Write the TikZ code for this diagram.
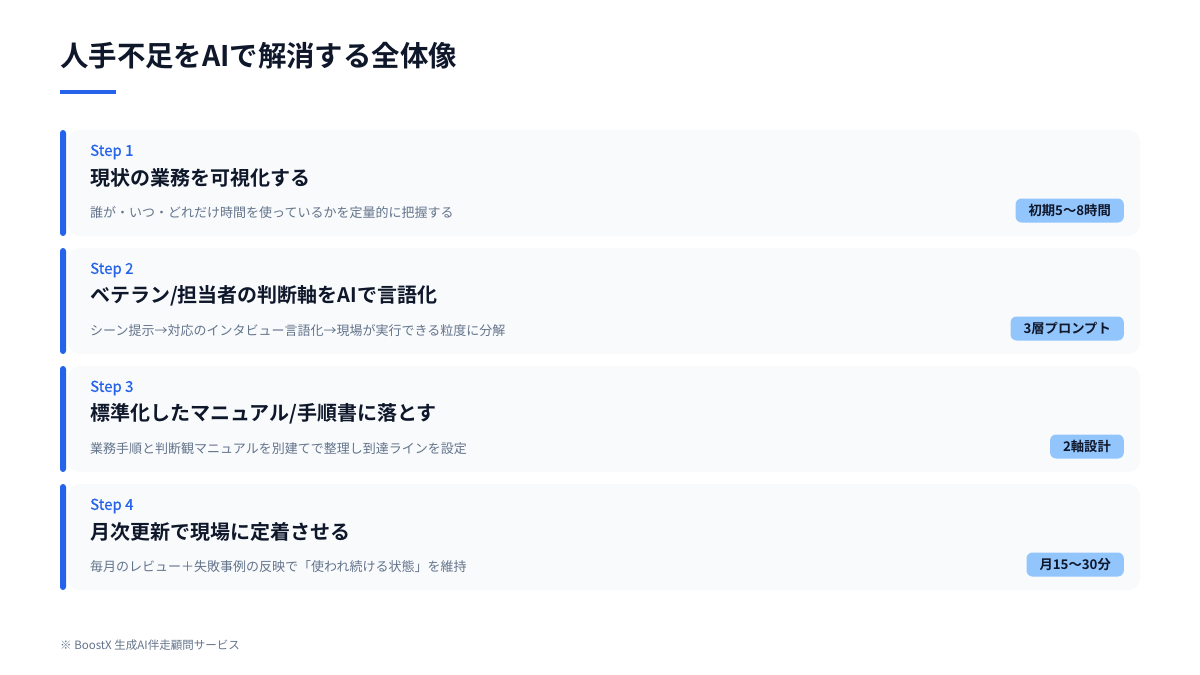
\documentclass[tikz,border=0pt]{standalone}
\usepackage{fontspec}
\setmainfont{Noto Sans CJK JP}[BoldFont={Noto Sans CJK JP Bold}]
\newfontfamily\medfont{Noto Sans CJK JP}[FakeBold=0.5]
\definecolor{accent}{HTML}{2563EB}
\definecolor{cardbg}{HTML}{F8FAFC}
\definecolor{ink}{HTML}{0F172A}
\definecolor{muted}{HTML}{64748B}
\definecolor{badgebg}{HTML}{93C5FD}
\tikzset{
  titletext/.style={anchor=west,inner sep=0pt,text=ink,font=\bfseries\fontsize{28.4}{34}\selectfont},
  steplabel/.style={anchor=west,inner sep=0pt,text=accent,font=\medfont\fontsize{15}{18}\selectfont},
  headtext/.style={anchor=west,inner sep=0pt,text=ink,font=\bfseries\fontsize{20}{24}\selectfont},
  desctext/.style={anchor=west,inner sep=0pt,text=muted,font=\fontsize{13}{16}\selectfont},
  badge/.style={anchor=east,fill=badgebg,rounded corners=6pt,inner xsep=13pt,inner ysep=0pt,minimum height=24pt,text=ink,font=\bfseries\fontsize{13.3}{16}\selectfont},
  cardbox/.style={fill=cardbg,rounded corners=12pt},
  sidebar/.style={fill=accent,rounded corners=3pt},
  foot/.style={anchor=west,inner sep=0pt,text=muted,font=\fontsize{11.5}{14}\selectfont}
}
\begin{document}
\begin{tikzpicture}[x=1pt,y=-1pt]
\useasboundingbox[fill=white] (0,0) rectangle (1200,675);
\node[titletext] (title) at (60,55.5) {人手不足をAIで解消する全体像};
\fill[accent] (60,90) rectangle (116,94);
\foreach \i/\top/\lab/\head/\desc/\bdg in {
 1/130/Step 1/現状の業務を可視化する/誰が・いつ・どれだけ時間を使っているかを定量的に把握する/初期5〜8時間,
 2/248/Step 2/ベテラン{/}担当者の判断軸をAIで言語化/シーン提示→対応のインタビュー言語化→現場が実行できる粒度に分解/3層プロンプト,
 3/366/Step 3/標準化したマニュアル{/}手順書に落とす/業務手順と判断観マニュアルを別建てで整理し到達ラインを設定/2軸設計,
 4/484/Step 4/月次更新で現場に定着させる/毎月のレビュー＋失敗事例の反映で「使われ続ける状態」を維持/月15〜30分}{
  \path[cardbox] (68,\top) rectangle (1140,\top+106);
  \path[sidebar] (60,\top) rectangle (66,\top+106);
  \node[steplabel] (step\i) at (90,\top+22) {\lab};
  \node[headtext] (head\i) at (90,\top+48) {\head};
  \node[desctext] (desc\i) at (90,\top+83) {\desc};
  \node[badge] (badge\i) at (1124,\top+80.5) {\bdg};
}
\node[foot] (footnote) at (60,645) {※ BoostX 生成AI伴走顧問サービス};
\end{tikzpicture}
\end{document}
